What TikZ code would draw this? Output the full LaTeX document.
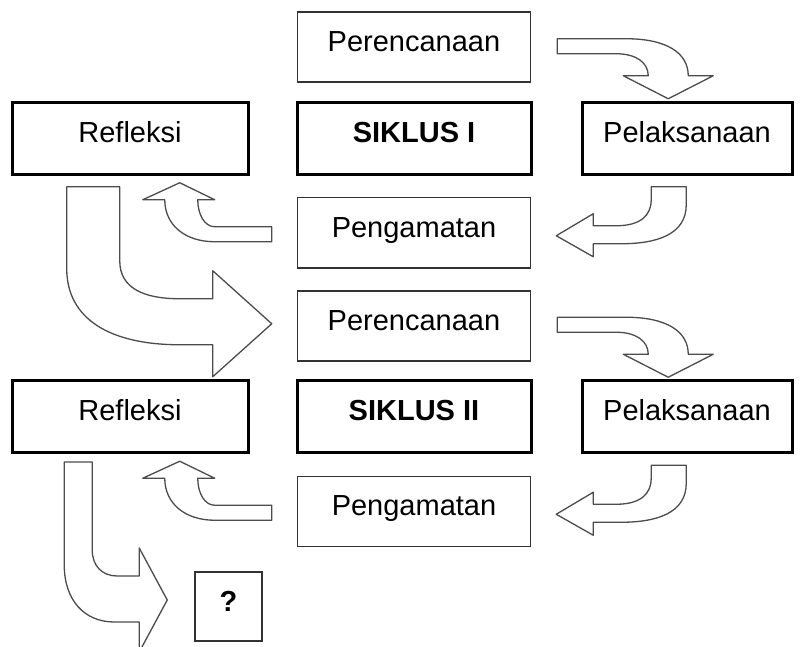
\documentclass[tikz,border=0pt]{standalone}
\usepackage{fontspec}
\setmainfont{Liberation Sans}
\usetikzlibrary{positioning}

\begin{document}
\begin{tikzpicture}[x=1pt,y=-1pt,
    kotak/.style={draw,minimum height=72pt,inner sep=0pt,text height=21pt,text depth=12pt,font=\fontsize{29}{34}\selectfont},
    tipis/.style={kotak,draw=black!80,line width=1.5pt,minimum width=233pt,minimum height=70pt},
    tebal/.style={kotak,line width=3pt},
    panah/.style={draw=black!70,fill=white,line width=1.3pt,line join=round}]
    \useasboundingbox (0,0) rectangle (803,647);
    \clip (0,0) rectangle (803,647);

    % siklus I
    \node[tebal, minimum width=234pt] (sik1) at (414,138.5)         {\textbf{SIKLUS I}};
    \node[tipis]                      (ren1) [above=18pt of sik1]   {Perencanaan};
    \node[tebal, minimum width=236pt] (ref1) [left=46pt of sik1]    {Refleksi};
    \node[tebal, minimum width=210pt] (pel1) [right=48pt of sik1]   {Pelaksanaan};
    \node[tipis]                      (pen1) [below=21pt of sik1]   {Pengamatan};
    % siklus II
    \node[tipis]                      (ren2) [below=21.5pt of pen1] {Perencanaan};
    \node[tebal, minimum width=234pt] (sik2) [below=17pt of ren2]   {\textbf{SIKLUS II}};
    \node[tebal, minimum width=236pt] (ref2) [left=46pt of sik2]    {Refleksi};
    \node[tebal, minimum width=210pt] (pel2) [right=48pt of sik2]   {Pelaksanaan};
    \node[tipis]                      (pen2) [below=22pt of sik2]   {Pengamatan};
    \node[kotak, draw=black!80, line width=1.5pt, minimum width=67pt, minimum height=69pt]
                                      (tanya) at (228.5,606.5)      {\textbf{?}};

    % panah siklus I
    \begin{scope}[shift={(ren1.east)}]
        \draw[panah] (26,-8.5) -- (95,-8.5) .. controls (135,-8.5) and (157,5.5) .. (157,28.5)
            -- (182,28.5) -- (137,51.5) -- (92,28.5) -- (117,28.5)
            .. controls (117,15.5) and (105,6.5) .. (85,6.5) -- (26,6.5) -- cycle;
    \end{scope}
    \begin{scope}[shift={(pen1.east)}]
        \draw[panah] (155,-46) -- (155,-28) .. controls (155,2) and (125,11) .. (90,11) -- (62,11)
            -- (62,24) -- (25,3) -- (62,-19) -- (62,-7) -- (85,-7)
            .. controls (110,-7) and (120,-18) .. (120,-33) -- (120,-46) -- cycle;
    \end{scope}
    \begin{scope}[shift={(pen1.west)}]
        \draw[panah] (-25,-6) -- (-25,9) -- (-82,9) .. controls (-112,9) and (-132,-8) .. (-132,-33)
            -- (-154,-33) -- (-117,-50) -- (-82,-33) -- (-99,-33)
            .. controls (-99,-18) and (-92,-6) .. (-82,-6) -- cycle;
    \end{scope}
    \begin{scope}[shift={(ren2.west)}]
        \draw[panah] (-230,-139) -- (-177,-139) -- (-177,-65) .. controls (-177,-37) and (-152,-27) .. (-117,-27)
            -- (-84,-27) -- (-84,-55) -- (-25,-2) -- (-84,51) -- (-84,19) -- (-117,19)
            .. controls (-187,19) and (-230,-7) .. (-230,-57) -- cycle;
    \end{scope}

    % panah siklus II
    \begin{scope}[shift={(ren2.east)}]
        \draw[panah] (26,-8.5) -- (95,-8.5) .. controls (135,-8.5) and (157,5.5) .. (157,28.5)
            -- (182,28.5) -- (137,51.5) -- (92,28.5) -- (117,28.5)
            .. controls (117,15.5) and (105,6.5) .. (85,6.5) -- (26,6.5) -- cycle;
    \end{scope}
    \begin{scope}[shift={(pen2.east)}]
        \draw[panah] (155,-46) -- (155,-28) .. controls (155,2) and (125,11) .. (90,11) -- (62,11)
            -- (62,24) -- (25,3) -- (62,-19) -- (62,-7) -- (85,-7)
            .. controls (110,-7) and (120,-18) .. (120,-33) -- (120,-46) -- cycle;
    \end{scope}
    \begin{scope}[shift={(pen2.west)}]
        \draw[panah] (-25,-6) -- (-25,9) -- (-82,9) .. controls (-112,9) and (-132,-8) .. (-132,-33)
            -- (-154,-33) -- (-117,-50) -- (-82,-33) -- (-99,-33)
            .. controls (-99,-18) and (-92,-6) .. (-82,-6) -- cycle;
    \end{scope}
    \begin{scope}[shift={(tanya.west)}]
        \draw[panah] (-130,-144.5) -- (-102,-144.5) -- (-102,-56.5) .. controls (-102,-40.5) and (-92,-30.5) .. (-77,-30.5)
            -- (-55,-30.5) -- (-55,-58.5) -- (-27,-6.5) -- (-55,45.5) -- (-55,15.5) -- (-80,15.5)
            .. controls (-110,15.5) and (-130,-6.5) .. (-130,-41.5) -- cycle;
    \end{scope}
\end{tikzpicture}
\end{document}
